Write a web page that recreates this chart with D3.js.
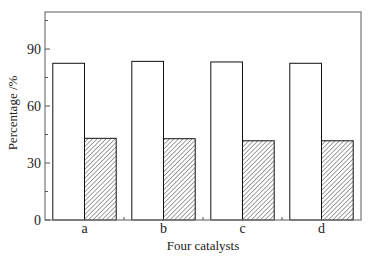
<!DOCTYPE html>
<html lang="en">
  <head>
    <script src="https://d3js.org/d3.v7.min.js"></script>
    <meta charset="UTF-8" />
    <title>Four catalysts</title>
    <style>
      body { margin: 0; background: #fff; }
      text { font-family: "Liberation Serif", "Times New Roman", serif; fill: #222; }
    </style>
  </head>
  <body>
    <svg width="382" height="259"></svg>
    <script>
      // data
      var catalysts = ["a", "b", "c", "d"];
      var openBars = [82.5, 83.5, 83.2, 82.5];
      var hatchedBars = [43.0, 42.8, 41.7, 41.7];
      var yTicks = [0, 30, 60, 90];
      var yMinor = [15, 45, 75, 105];

      var svg = d3.select("svg");
      var plotL = 45, plotR = 361, plotT = 12, plotB = 220;

      var defs = svg.append("defs");
      var pat = defs.append("pattern")
        .attr("id", "hatch")
        .attr("patternUnits", "userSpaceOnUse")
        .attr("width", 3.2)
        .attr("height", 3.2)
        .attr("patternTransform", "rotate(45)");
      pat.append("rect").attr("width", 3.2).attr("height", 3.2).attr("fill", "#fff");
      pat.append("line")
        .attr("x1", 0).attr("y1", 0).attr("x2", 0).attr("y2", 3.2)
        .attr("stroke", "#555").attr("stroke-width", 1.1);

      var x = d3.scaleBand().domain(catalysts).range([plotL, plotR]);
      var y = d3.scaleLinear().domain([0, 109.5]).range([plotB, plotT]);
      var bw = 31.7;
      function mid(d) { return x(d) + x.bandwidth() / 2; }

      // bars
      var g = svg.append("g");
      g.selectAll(".open")
        .data(catalysts)
        .enter()
        .append("rect")
        .attr("class", "open")
        .attr("x", function (d) { return mid(d) - bw; })
        .attr("y", function (d, i) { return y(openBars[i]); })
        .attr("width", bw)
        .attr("height", function (d, i) { return plotB - y(openBars[i]); })
        .attr("fill", "#fff")
        .attr("stroke", "#111")
        .attr("stroke-width", 1);
      g.selectAll(".hatched")
        .data(catalysts)
        .enter()
        .append("rect")
        .attr("class", "hatched")
        .attr("x", function (d) { return mid(d); })
        .attr("y", function (d, i) { return y(hatchedBars[i]); })
        .attr("width", bw)
        .attr("height", function (d, i) { return plotB - y(hatchedBars[i]); })
        .attr("fill", "url(#hatch)")
        .attr("stroke", "#111")
        .attr("stroke-width", 1);

      // frame
      svg.append("rect")
        .attr("x", plotL).attr("y", plotT)
        .attr("width", plotR - plotL).attr("height", plotB - plotT)
        .attr("fill", "none").attr("stroke", "#777").attr("stroke-width", 1.2);

      // y ticks (inward)
      svg.selectAll(".ymaj").data(yTicks).enter().append("line")
        .attr("x1", plotL).attr("x2", plotL + 5)
        .attr("y1", function (d) { return y(d); }).attr("y2", function (d) { return y(d); })
        .attr("stroke", "#555");
      svg.selectAll(".ymin").data(yMinor).enter().append("line")
        .attr("x1", plotL).attr("x2", plotL + 3)
        .attr("y1", function (d) { return y(d); }).attr("y2", function (d) { return y(d); })
        .attr("stroke", "#555");
      svg.selectAll(".ylab").data(yTicks).enter().append("text")
        .attr("x", plotL - 4)
        .attr("y", function (d) { return y(d); })
        .attr("dy", "0.35em")
        .attr("text-anchor", "end")
        .attr("font-size", "14px")
        .text(function (d) { return d; });

      // x ticks between groups
      svg.selectAll(".xt").data(catalysts.slice(1)).enter().append("line")
        .attr("x1", function (d) { return x(d); })
        .attr("x2", function (d) { return x(d); })
        .attr("y1", plotB).attr("y2", plotB - 3)
        .attr("stroke", "#555");
      svg.selectAll(".xlab").data(catalysts).enter().append("text")
        .attr("x", mid)
        .attr("y", plotB + 13)
        .attr("text-anchor", "middle")
        .attr("font-size", "14px")
        .text(function (d) { return d; });

      // axis titles
      svg.append("text")
        .attr("x", (plotL + plotR) / 2)
        .attr("y", 250)
        .attr("text-anchor", "middle")
        .attr("font-size", "13px")
        .text("Four catalysts");
      svg.append("text")
        .attr("transform", "translate(17,113) rotate(-90)")
        .attr("text-anchor", "middle")
        .attr("font-size", "13px")
        .text("Percentage /%");
    </script>
  </body>
</html>
